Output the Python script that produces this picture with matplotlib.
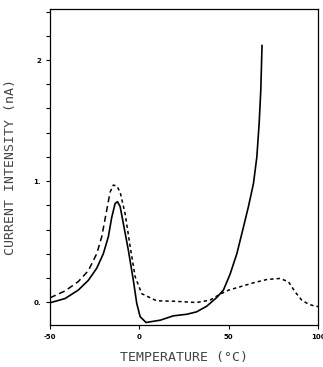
import numpy as np
import matplotlib.pyplot as plt

# solid curve
t_solid = [-50, -41.6, -34.2, -28.6, -23.9, -20.2, -17.4, -15.5, -13.6, -12.3, -10.8, -9,
           -6.2, -3.4, -1.5, 0.4, 3.7, 11.6, 19, 26.5, 32, 37.7, 43.3, 47, 50.7, 54.5,
           58.2, 61, 63.8, 65.7, 67, 67.9, 68.6]
i_solid = [-0.005, 0.03, 0.10, 0.18, 0.28, 0.40, 0.54, 0.70, 0.815, 0.83, 0.79, 0.65,
           0.43, 0.18, -0.01, -0.12, -0.168, -0.149, -0.113, -0.10, -0.08, -0.033, 0.039,
           0.10, 0.23, 0.40, 0.62, 0.79, 0.98, 1.20, 1.48, 1.75, 2.12]

# dashed curve
t_dash = [-50, -41.6, -34.2, -28.6, -23.9, -21.1, -18.3, -16.4, -14.6, -12.7, -10.8, -8,
          -5.2, -2.4, 1.3, 6.9, 9.7, 19, 32, 39.5, 45.1, 50, 56.3, 63.8, 71.3, 78.7,
          83.4, 87.1, 90.8, 94.6, 98.3, 100]
i_dash = [0.036, 0.093, 0.17, 0.26, 0.40, 0.54, 0.76, 0.91, 0.967, 0.96, 0.91, 0.73,
          0.46, 0.21, 0.07, 0.03, 0.011, 0.008, -0.003, 0.017, 0.066, 0.10, 0.127, 0.16,
          0.187, 0.196, 0.168, 0.085, 0.017, -0.017, -0.033, -0.036]

fig = plt.figure(figsize=(3.23, 3.67), dpi=100)
ax = fig.add_axes([0.155, 0.114, 0.83, 0.861])

ax.plot(t_solid, i_solid, color='black', lw=1.2)

# long dashes on the rising side, short dashes after that
split = 8
ax.plot(t_dash[:split], i_dash[:split], color='black', lw=1.1, linestyle=(0, (4, 2.5)))
ax.plot(t_dash[split - 1:], i_dash[split - 1:], color='black', lw=1.1,
        linestyle=(0, (2.2, 2)))

ax.set_xlim(-50, 100)
ax.set_ylim(-0.19, 2.42)
ax.set_xticks([-50, 0, 50, 100])
ax.set_xticklabels(['-50', '0', '50', '100'])
ax.set_yticks([0, 1, 2])
ax.set_yticklabels(['0.', '1.', '2'])
ax.set_yticks(np.arange(0, 2.41, 0.2), minor=True)
ax.tick_params(axis='both', which='major', labelsize=5, length=3, width=0.8)
ax.tick_params(axis='y', which='minor', length=3, width=0.8)
for lab in ax.get_xticklabels() + ax.get_yticklabels():
    lab.set_fontweight('bold')
for s in ax.spines.values():
    s.set_linewidth(0.9)

ax.set_xlabel('TEMPERATURE (\u00b0C)', family='DejaVu Sans Mono', fontsize=9.5,
              color='#444444', labelpad=8)
ax.set_ylabel('CURRENT INTENSITY (nA)', family='DejaVu Sans Mono', fontsize=9.5,
              color='#444444', labelpad=12)

fig.savefig('out.png', dpi=100)
